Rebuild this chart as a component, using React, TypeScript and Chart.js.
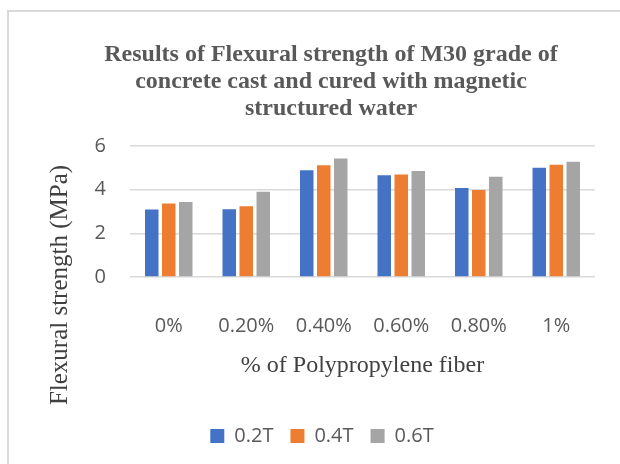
import React, { useEffect, useRef } from "react";
import { Chart, registerables } from "chart.js";

Chart.register(...registerables);

const categories = ["0%", "0.20%", "0.40%", "0.60%", "0.80%", "1%"];
const series02 = [3.09, 3.1, 4.89, 4.66, 4.08, 5.0];
const series04 = [3.37, 3.24, 5.12, 4.7, 3.99, 5.14];
const series06 = [3.43, 3.9, 5.43, 4.85, 4.59, 5.28];
const seriesNames = ["0.2T", "0.4T", "0.6T"];
const seriesColors = ["#4472C4", "#ED7D31", "#A5A5A5"];
const titleLines = [
  "Results of Flexural strength of M30 grade of",
  "concrete cast and cured with magnetic",
  "structured water",
];
const yAxisTitle = "Flexural strength (MPa)";
const xAxisTitle = "% of Polypropylene fiber";
const yMin = 0;
const yMax = 6;
const yStep = 2;

const SANS = '"Open Sans", "Liberation Sans", sans-serif';
const SERIF = '"Liberation Serif", "Times New Roman", serif';

const CANVAS_W = 644;
const CANVAS_H = 464;

export default function App() {
  const ref = useRef<HTMLCanvasElement | null>(null);

  useEffect(() => {
    if (!ref.current) return;

    const extras = {
      id: "extras",
      afterLayout(chart: any) {
        const lg = chart.legend;
        if (lg) {
          const s = 313 - (lg.left + lg.right) / 2;
          lg.left += s;
          lg.right += s;
        }
      },
      afterDraw(chart: any) {
        const ctx = chart.ctx;
        ctx.save();
        ctx.translate(51, 273);
        ctx.rotate(-Math.PI / 2);
        ctx.font = `25px ${SERIF}`;
        ctx.fillStyle = "#404040";
        ctx.textAlign = "center";
        ctx.textBaseline = "middle";
        ctx.fillText(yAxisTitle, 0, 0);
        ctx.restore();
      },
    };

    const data = [series02, series04, series06];

    const chart = new Chart(ref.current, {
      type: "bar",
      data: {
        labels: categories,
        datasets: data.map((d, i) => ({
          label: seriesNames[i],
          data: d,
          backgroundColor: seriesColors[i],
          borderWidth: 0,
          categoryPercentage: 0.658,
          barPercentage: 0.794,
        })),
      },
      options: {
        animation: false,
        responsive: false,
        maintainAspectRatio: false,
        layout: { padding: { left: 58, right: 58, top: 29.5, bottom: 20 } },
        plugins: {
          title: {
            display: true,
            text: titleLines,
            color: "#595959",
            font: { family: SERIF, size: 24, weight: "bold", lineHeight: 27 / 24 },
            padding: { top: 0, bottom: 23.5 },
          },
          legend: {
            display: true,
            position: "bottom",
            labels: {
              boxWidth: 14,
              boxHeight: 14,
              padding: 17,
              color: "#595959",
              font: { family: SANS, size: 20 },
            },
          },
          tooltip: { enabled: false },
        },
        scales: {
          x: {
            grid: { display: false },
            border: { display: false },
            ticks: {
              color: "#595959",
              font: { family: SANS, size: 20 },
              padding: 29,
              maxRotation: 0,
            },
            title: {
              display: true,
              text: xAxisTitle,
              color: "#404040",
              font: { family: SERIF, size: 24, lineHeight: 1.2 },
              padding: { top: 28.6, bottom: 28.6 },
            },
            afterFit: (axis: any) => {
              axis.height = 132;
            },
          },
          y: {
            min: yMin,
            max: yMax,
            grid: { color: "#d9d9d9", lineWidth: 1.5, drawTicks: false },
            border: { display: false },
            ticks: {
              stepSize: yStep,
              color: "#595959",
              font: { family: SANS, size: 20 },
              padding: 24,
            },
            afterFit: (axis: any) => {
              axis.width = 63;
            },
          },
        },
      },
      plugins: [extras],
    });

    return () => chart.destroy();
  }, []);

  return (
    <div
      style={{
        position: "fixed",
        left: 0,
        top: 0,
        width: 620,
        height: 464,
        overflow: "hidden",
        background: "#ffffff",
      }}
    >
      <div
        style={{
          position: "absolute",
          left: 7,
          top: 10,
          width: 700,
          height: 600,
          borderTop: "2px solid #d9d9d9",
          borderLeft: "2px solid #d9d9d9",
        }}
      >
        <canvas
          ref={ref}
          width={CANVAS_W}
          height={CANVAS_H}
          style={{ position: "absolute", left: 0, top: 0, width: CANVAS_W, height: CANVAS_H }}
        />
      </div>
    </div>
  );
}
